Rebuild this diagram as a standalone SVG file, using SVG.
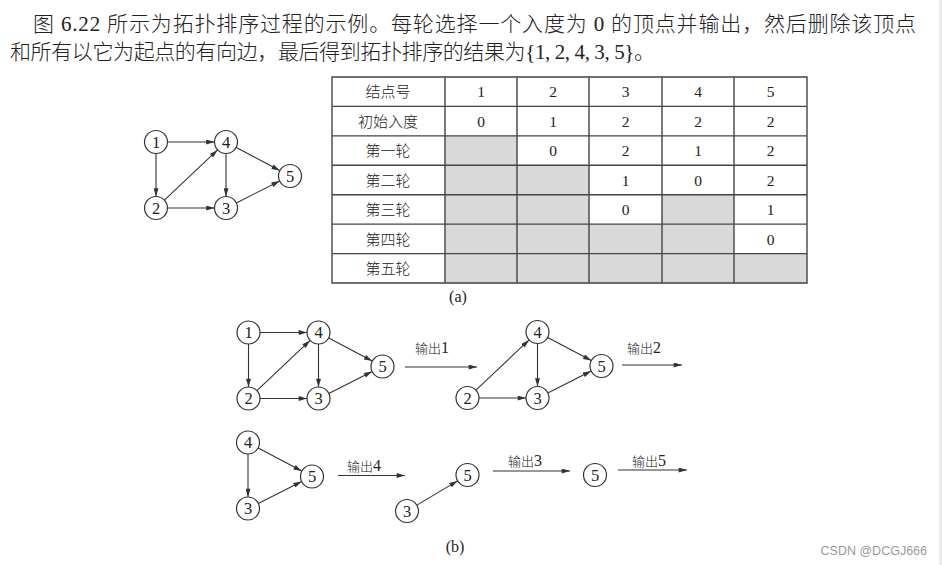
<svg xmlns="http://www.w3.org/2000/svg" width="942" height="565" viewBox="0 0 942 565">
<defs>
<style>
.cjk{font-family:"Liberation Serif","Noto Sans CJK SC",serif;fill:#222;font-weight:300}
.top{font-size:21px}
.cell{font-size:15px;text-anchor:middle}
.num{font-family:"Liberation Serif",serif;font-size:15.5px;text-anchor:middle;fill:#222}
.nl{font-family:"Liberation Serif",serif;font-size:16.5px;text-anchor:middle;fill:#222}
.nc{fill:#fff;stroke:#333;stroke-width:1.2}
.e{stroke:#333;stroke-width:1.1;fill:none;marker-end:url(#ah)}
.lbl{font-family:"Liberation Serif","Noto Sans CJK SC",serif;font-size:13px;fill:#222;font-weight:300}
.d{font-size:16px;font-weight:400}
.grid{stroke:#444;stroke-width:1.4;fill:none}
.gray{fill:#d9d9d9}
</style>
<marker id="ah" viewBox="0 0 10 6" refX="10" refY="3" markerWidth="9" markerHeight="5" markerUnits="userSpaceOnUse" orient="auto"><path d="M0,0 L10,3 L0,6 z" fill="#333"/></marker>
</defs>
<rect width="942" height="565" fill="#fff"/>
<rect x="939" y="0" width="3" height="565" fill="#ececec"/>

<g id="intro">
<text class="cjk top" x="33" y="31" textLength="883">图 6.22 所示为拓扑排序过程的示例。每轮选择一个入度为 0 的顶点并输出，然后删除该顶点</text>
<text class="cjk top" x="10" y="59" textLength="645">和所有以它为起点的有向边，最后得到拓扑排序的结果为{1, 2, 4, 3, 5}。</text>
</g>

<g id="table">
<rect class="gray" x="445" y="135.9" width="72" height="29.4"/>
<rect class="gray" x="445" y="165.3" width="144" height="29.4"/>
<rect class="gray" x="445" y="194.7" width="144" height="29.4"/>
<rect class="gray" x="662" y="194.7" width="72" height="29.4"/>
<rect class="gray" x="445" y="224.1" width="289" height="29.5"/>
<rect class="gray" x="445" y="253.6" width="362" height="29.4"/>
<path class="grid" d="M332,77H807V283H332Z M332,106.4H807 M332,135.9H807 M332,165.3H807 M332,194.7H807 M332,224.1H807 M332,253.6H807 M445,77V283 M517,77V283 M589,77V283 M662,77V283 M734,77V283"/>
<g class="cjk cell">
<text x="388" y="97">结点号</text>
<text x="388" y="126.5">初始入度</text>
<text x="388" y="156">第一轮</text>
<text x="388" y="185.5">第二轮</text>
<text x="388" y="215">第三轮</text>
<text x="388" y="244.5">第四轮</text>
<text x="388" y="274">第五轮</text>
</g>
<g class="num">
<text x="481" y="97">1</text><text x="553" y="97">2</text><text x="625.5" y="97">3</text><text x="698" y="97">4</text><text x="770.5" y="97">5</text>
<text x="481" y="126.5">0</text><text x="553" y="126.5">1</text><text x="625.5" y="126.5">2</text><text x="698" y="126.5">2</text><text x="770.5" y="126.5">2</text>
<text x="553" y="156">0</text><text x="625.5" y="156">2</text><text x="698" y="156">1</text><text x="770.5" y="156">2</text>
<text x="625.5" y="185.5">1</text><text x="698" y="185.5">0</text><text x="770.5" y="185.5">2</text>
<text x="625.5" y="215">0</text><text x="770.5" y="215">1</text>
<text x="770.5" y="244.5">0</text>
</g>
</g>
<text class="nl" x="458" y="302" style="font-size:16px">(a)</text>

<g id="graphA">
<g id="a-edges">
<line class="e" x1="167.5" y1="142" x2="214.5" y2="142"/>
<line class="e" x1="156" y1="153.5" x2="156" y2="196.5"/>
<line class="e" x1="226" y1="153.5" x2="226" y2="196.5"/>
<line class="e" x1="167.5" y1="208" x2="214.5" y2="208"/>
<line class="e" x1="164.4" y1="200.1" x2="217.6" y2="149.9"/>
<line class="e" x1="236.2" y1="147.4" x2="279.8" y2="170.6"/>
<line class="e" x1="236.3" y1="202.9" x2="279.7" y2="181.1"/>
</g>
<g id="a-n1"><circle class="nc" cx="156" cy="142" r="11.5"/><text class="nl" x="156" y="147.5">1</text></g>
<g id="a-n4"><circle class="nc" cx="226" cy="142" r="11.5"/><text class="nl" x="226" y="147.5">4</text></g>
<g id="a-n2"><circle class="nc" cx="156" cy="208" r="11.5"/><text class="nl" x="156" y="213.5">2</text></g>
<g id="a-n3"><circle class="nc" cx="226" cy="208" r="11.5"/><text class="nl" x="226" y="213.5">3</text></g>
<g id="a-n5"><circle class="nc" cx="290" cy="176" r="11.5"/><text class="nl" x="290" y="181.5">5</text></g>
</g>

<g id="graphB1" transform="translate(92.5,190.5)">
<g id="b1-edges">
<line class="e" x1="167.5" y1="142" x2="214.5" y2="142"/>
<line class="e" x1="156" y1="153.5" x2="156" y2="196.5"/>
<line class="e" x1="226" y1="153.5" x2="226" y2="196.5"/>
<line class="e" x1="167.5" y1="208" x2="214.5" y2="208"/>
<line class="e" x1="164.4" y1="200.1" x2="217.6" y2="149.9"/>
<line class="e" x1="236.2" y1="147.4" x2="279.8" y2="170.6"/>
<line class="e" x1="236.3" y1="202.9" x2="279.7" y2="181.1"/>
</g>
<g id="b1-n1"><circle class="nc" cx="156" cy="142" r="11.5"/><text class="nl" x="156" y="147.5">1</text></g>
<g id="b1-n4"><circle class="nc" cx="226" cy="142" r="11.5"/><text class="nl" x="226" y="147.5">4</text></g>
<g id="b1-n2"><circle class="nc" cx="156" cy="208" r="11.5"/><text class="nl" x="156" y="213.5">2</text></g>
<g id="b1-n3"><circle class="nc" cx="226" cy="208" r="11.5"/><text class="nl" x="226" y="213.5">3</text></g>
<g id="b1-n5"><circle class="nc" cx="290" cy="176" r="11.5"/><text class="nl" x="290" y="181.5">5</text></g>
</g>

<g id="graphB2" transform="translate(311.5,190)">
<g id="b2-edges">
<line class="e" x1="226" y1="153.5" x2="226" y2="196.5"/>
<line class="e" x1="167.5" y1="208" x2="214.5" y2="208"/>
<line class="e" x1="164.4" y1="200.1" x2="217.6" y2="149.9"/>
<line class="e" x1="236.2" y1="147.4" x2="279.8" y2="170.6"/>
<line class="e" x1="236.3" y1="202.9" x2="279.7" y2="181.1"/>
</g>
<g id="b2-n4"><circle class="nc" cx="226" cy="142" r="11.5"/><text class="nl" x="226" y="147.5">4</text></g>
<g id="b2-n2"><circle class="nc" cx="156" cy="208" r="11.5"/><text class="nl" x="156" y="213.5">2</text></g>
<g id="b2-n3"><circle class="nc" cx="226" cy="208" r="11.5"/><text class="nl" x="226" y="213.5">3</text></g>
<g id="b2-n5"><circle class="nc" cx="290" cy="176" r="11.5"/><text class="nl" x="290" y="181.5">5</text></g>
</g>

<g id="graphB3" transform="translate(22,300.5)">
<g id="b3-edges">
<line class="e" x1="226" y1="153.5" x2="226" y2="196.5"/>
<line class="e" x1="236.2" y1="147.4" x2="279.8" y2="170.6"/>
<line class="e" x1="236.3" y1="202.9" x2="279.7" y2="181.1"/>
</g>
<g id="b3-n4"><circle class="nc" cx="226" cy="142" r="11.5"/><text class="nl" x="226" y="147.5">4</text></g>
<g id="b3-n3"><circle class="nc" cx="226" cy="208" r="11.5"/><text class="nl" x="226" y="213.5">3</text></g>
<g id="b3-n5"><circle class="nc" cx="290" cy="176" r="11.5"/><text class="nl" x="290" y="181.5">5</text></g>
</g>

<g id="graphB4">
<g id="b4-edges">
<line class="e" x1="416.9" y1="505.1" x2="457.6" y2="480.9"/>
</g>
<g id="b4-n3"><circle class="nc" cx="407" cy="511" r="11.5"/><text class="nl" x="407" y="516.5">3</text></g>
<g id="b4-n5"><circle class="nc" cx="467.5" cy="475" r="11.5"/><text class="nl" x="467.5" y="480.5">5</text></g>
</g>

<g id="graphB5">
<g id="b5-n5"><circle class="nc" cx="595" cy="475" r="11.5"/><text class="nl" x="595" y="480.5">5</text></g>
</g>

<g id="steps">
<line class="e" x1="405" y1="367" x2="477" y2="367"/>
<text class="lbl" x="415" y="353">输出<tspan class="d">1</tspan></text>
<line class="e" x1="622" y1="365" x2="682" y2="365"/>
<text class="lbl" x="627" y="353">输出<tspan class="d">2</tspan></text>
<line class="e" x1="338" y1="475.5" x2="405" y2="475.5"/>
<text class="lbl" x="347" y="471">输出<tspan class="d">4</tspan></text>
<line class="e" x1="493" y1="471" x2="570" y2="471"/>
<text class="lbl" x="508" y="466">输出<tspan class="d">3</tspan></text>
<line class="e" x1="618" y1="470" x2="687" y2="470"/>
<text class="lbl" x="632" y="466">输出<tspan class="d">5</tspan></text>
</g>

<text class="nl" x="455" y="552" style="font-size:16px">(b)</text>
<text x="927" y="555" text-anchor="end" font-family="'Liberation Sans',Arial,sans-serif" font-size="12.5" fill="#9a9a9a">CSDN @DCGJ666</text>
</svg>
